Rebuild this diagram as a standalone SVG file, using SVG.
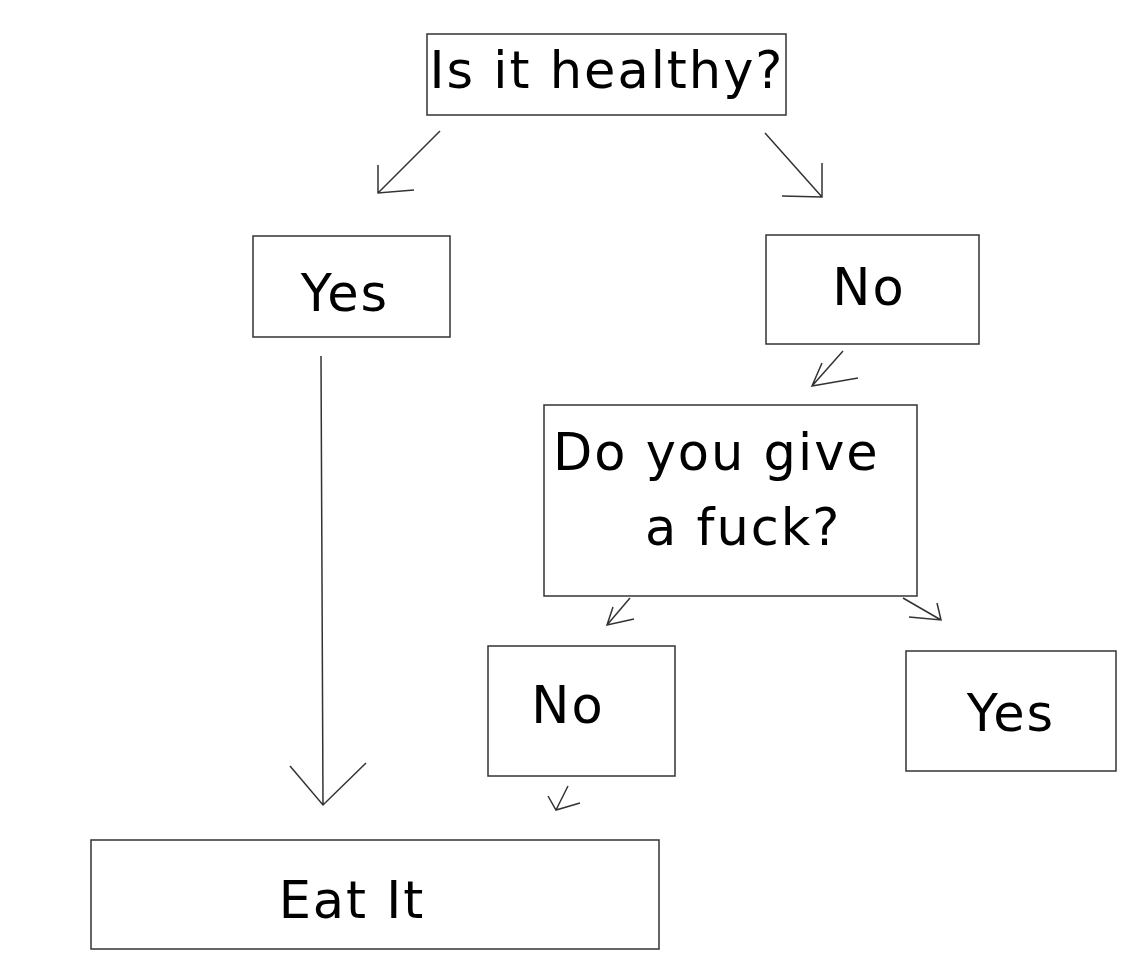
<svg xmlns="http://www.w3.org/2000/svg" width="1146" height="970" viewBox="0 0 1146 970">
<style>
.b{fill:#fff;stroke:#333;stroke-width:1.5}
.t{font-family:"DejaVu Sans",sans-serif;font-size:51px;letter-spacing:2px;fill:#000}
.c{fill:none;stroke:#333;stroke-width:1.5}
</style>
<rect width="1146" height="970" fill="#fff"/>
<g id="n1"><rect class="b" x="427" y="34" width="359" height="81"/><text class="t" x="607" y="88" text-anchor="middle">Is it healthy?</text></g>
<g id="n2"><rect class="b" x="253" y="236" width="197" height="101"/><text class="t" x="345" y="311" text-anchor="middle">Yes</text></g>
<g id="n3"><rect class="b" x="766" y="235" width="213" height="109"/><text class="t" x="869" y="305" text-anchor="middle">No</text></g>
<g id="n4"><rect class="b" x="544" y="405" width="373" height="191"/><text class="t" x="553" y="470">Do you give</text><text class="t" x="645" y="545">a fuck?</text></g>
<g id="n5"><rect class="b" x="488" y="646" width="187" height="130"/><text class="t" x="568" y="723" text-anchor="middle">No</text></g>
<g id="n6"><rect class="b" x="906" y="651" width="210" height="120"/><text class="t" x="1011" y="731" text-anchor="middle">Yes</text></g>
<g id="n7"><rect class="b" x="91" y="840" width="568" height="109"/><text class="t" x="352" y="918" text-anchor="middle">Eat It</text></g>
<g id="connectors">
<path class="c" d="M440 131L378 193M378 165L378 193L414 190"/>
<path class="c" d="M765 133L822 197M822 163L822 197L782 196"/>
<path class="c" d="M321 356L323 805M290 766L323 805L366 763"/>
<path class="c" d="M843 351L812 386M822 363L812 386L858 378"/>
<path class="c" d="M630 598L607 625M613 607L607 625L634 619"/>
<path class="c" d="M903 598L941 620M937 603L941 620L909 617"/>
<path class="c" d="M568 786L556 810M548 796L556 810L580 803"/>
</g>
</svg>
